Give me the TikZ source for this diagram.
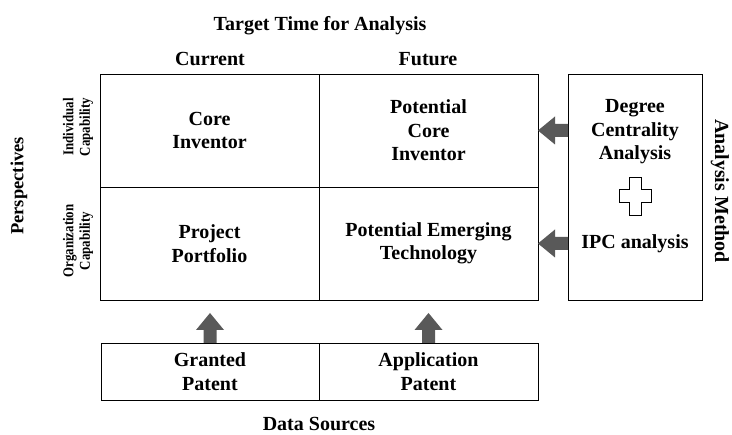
\documentclass[tikz,border=0pt]{standalone}
\usepackage{fontspec}
\setmainfont{Liberation Serif}
\usetikzlibrary{calc}
\definecolor{arrowgray}{HTML}{595959}
\tikzset{
  cell/.style={draw=black, line width=0.9pt, inner sep=0pt, outer sep=0pt,
    minimum width=219pt, minimum height=113pt, align=center,
    font=\fontsize{20}{23.5}\selectfont\bfseries},
  srcbox/.style={cell, minimum height=57pt},
  methodbox/.style={draw=black, line width=0.9pt, inner sep=0pt, outer sep=0pt,
    minimum width=134pt, minimum height=226pt},
  bigtext/.style={align=center, inner sep=0pt, font=\fontsize{20}{23.5}\selectfont\bfseries},
  sidetext/.style={align=center, inner sep=0pt, rotate=90,
    font=\fontsize{15}{16.5}\selectfont\bfseries},
  uparr/.pic={\fill[arrowgray] (-6.5,0) -- (-6.5,-13) -- (-14,-13) -- (0,-30)
      -- (14,-13) -- (6.5,-13) -- (6.5,0) -- cycle;},
  leftarr/.pic={\fill[arrowgray] (0,-6.5) -- (-13,-6.5) -- (-13,-14) -- (-30,0)
      -- (-13,14) -- (-13,6.5) -- (0,6.5) -- cycle;},
  plusmark/.pic={\draw[black, line width=0.8pt, fill=white]
      (-6,-19) -- (6,-19) -- (6,-6.5) -- (16,-6.5) -- (16,6.5) -- (6,6.5)
      -- (6,19) -- (-6,19) -- (-6,6.5) -- (-16,6.5) -- (-16,-6.5) -- (-6,-6.5) -- cycle;}
}
\newcommand{\squeezed}[1]{\scalebox{0.86}[1]{#1}}
\begin{document}
\begin{tikzpicture}[x=1pt, y=-1pt]
  % canvas
  \fill[white] (0,0) rectangle (732,435);
  \useasboundingbox (0,0) rectangle (732,435);

  % headings
  \node[bigtext, anchor=base] (title) at (320,31) {Target Time for Analysis};
  \node[bigtext, anchor=base] (cur) at (210,66) {Current};
  \node[bigtext, anchor=base] (fut) at (428,66) {Future};
  \node[bigtext, anchor=base] (src) at (319,431) {Data Sources};
  \node[align=center, inner sep=0pt, rotate=90,
        font=\fontsize{18.5}{22}\selectfont\bfseries] (persp) at (19,186) {Perspectives};
  \node[bigtext, rotate=-90] (meth) at (720,191) {Analysis Method};

  % row labels
  \node[sidetext] (indiv) at (78,127) {\squeezed{Individual}\\\squeezed{Capability}};
  \node[sidetext] (org) at (78,241) {\squeezed{Organization}\\\squeezed{Capability}};

  % 2x2 matrix
  \node[cell] (ci)  at (209.5,130.5) {Core\\Inventor};
  \node[cell] (pci) at (428.5,130.5) {Potential\\Core\\Inventor};
  \node[cell] (pp)  at (209.5,243.5) {Project\\Portfolio};
  \node[cell] (pet) at (428.5,243.5) {Potential Emerging\\Technology};

  % data source boxes
  \node[srcbox, minimum width=218pt] (gp) at (210,371.5) {Granted\\Patent};
  \node[srcbox] (ap) at (428.5,371.5) {Application\\Patent};

  % analysis method box
  \node[methodbox] (rb) at (635,187) {};
  \node[bigtext] (dca) at (635,132) {Degree\\Centrality\\Analysis};
  \node[bigtext] (ipc) at (635,244) {IPC analysis};
  \pic at (635,196) {plusmark};

  % block arrows
  \pic at (gp.north) {uparr};
  \pic at (ap.north) {uparr};
  \pic at (rb.west |- pci.east) {leftarr};
  \pic at (rb.west |- pet.east) {leftarr};
\end{tikzpicture}
\end{document}
